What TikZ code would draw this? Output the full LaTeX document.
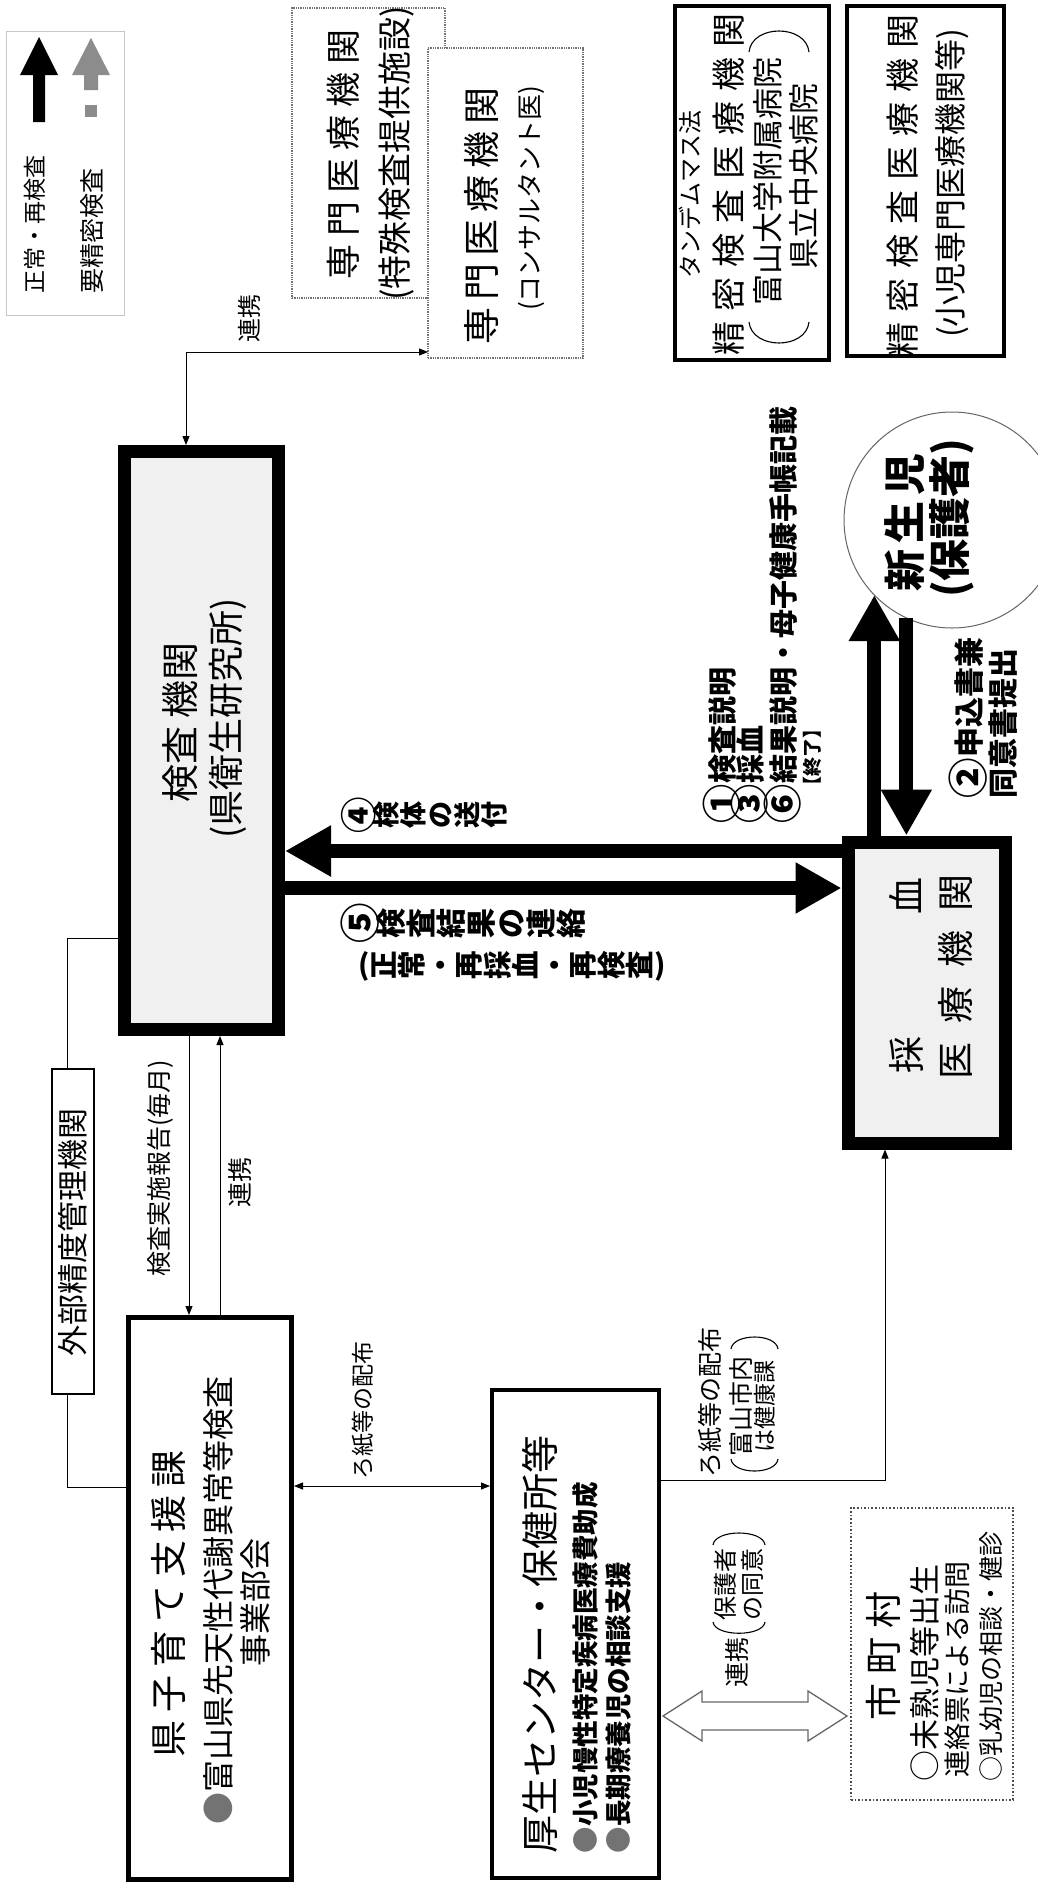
\documentclass[tikz,border=0pt]{standalone}
\usepackage{fontspec}
\usepackage{graphicx}
\setmainfont{Noto Sans CJK JP}
\usetikzlibrary{arrows.meta}
\makeatletter
\def\tate@end{TATEEND}
\def\lsp@end{LSPEND}
\newcommand\tchar[1]{\rotatebox[origin=c]{90}{\raisebox{0pt}[0.88em][0.12em]{#1}}}
\def\tate#1{\tate@loop#1\tate@end}
\def\tate@loop#1{\ifx#1\tate@end\else\tchar{#1}\expandafter\tate@loop\fi}
\def\lsp#1#2{\def\lsp@gap{#1}\lsp@first#2\lsp@end}
\def\lsp@first#1{#1\lsp@loop}
\def\lsp@loop#1{\ifx#1\lsp@end\else\hspace{\lsp@gap}#1\expandafter\lsp@loop\fi}
\makeatother
\newcommand\fsz[1]{\fontsize{#1}{#1}\selectfont}
\newcommand\gbul{{\color{black!55}●}}
\newcommand\cnum[1]{\raisebox{-0.1em}{\scalebox{1.35}{#1}}}
\begin{document}
\begin{tikzpicture}[x=1pt,y=-1pt,
  every node/.style={inner sep=0pt, outer sep=0pt},
  txt/.style={rotate=90, inner sep=0pt},
  thickbox/.style={draw, line width=13pt, outer sep=6.5pt, fill=black!6},
  midbox/.style={draw, line width=4pt, outer sep=2pt, fill=white},
  dotbox/.style={draw=black!55, densely dotted, line width=1.3pt, fill=white},
  tip/.tip={Triangle[length=9pt,width=7pt]},
  thinarr/.style={line width=1pt, -tip},
  thinboth/.style={line width=1pt, tip-tip},
  fatarr/.style={line width=14pt, -{Triangle[length=46pt,width=48pt]}},
  brk/.style={line width=1.1pt},
]
\clip (0,0) rectangle (1038,1884);
\fill[white] (0,0) rectangle (1038,1884);

% legend
\node[draw=black!22, line width=1pt, minimum width=118pt, minimum height=283pt] (legend) at (65,173.5) {};
\fill (33,122) -- (33,75) -- (20,75) -- (39,37) -- (58,75) -- (45,75) -- (45,122) -- cycle;
\fill[black!45] (84,90) -- (84,75) -- (72,75) -- (91,38) -- (110,75) -- (98,75) -- (98,90) -- cycle;
\fill[black!45] (85,105) rectangle (97,117);
\node[txt, anchor=west] (lg1) at (35,293) {\fsz{23}正常・再検査};
\node[txt, anchor=west] (lg2) at (92,293) {\fsz{25}要精密検査};

% specialist boxes
\node[dotbox, minimum width=153pt, minimum height=290pt] (sp1) at (368.5,153) {};
\node[txt] (sp1a) at (343,154) {\fsz{35}\lsp{8pt}{専門医療機関}};
\node[txt] (sp1b) at (397,153) {\fsz{34}(特殊検査提供施設)};
\node[dotbox, minimum width=155pt, minimum height=310pt] (sp2) at (505.5,203) {};
\node[txt] (sp2a) at (481,216) {\fsz{37}\lsp{7pt}{専門医療機関}};
\node[txt] (sp2b) at (531,198) {\fsz{26}(コンサルタント医)};

% tandem box
\node[midbox, minimum width=154pt, minimum height=354pt] (tandem) at (752,183) {};
\node[txt, anchor=west] (tda) at (690,278) {\fsz{24}タンデムマス法};
\node[txt] (tdb) at (729,184) {\fsz{34}\lsp{10pt}{精密検査医療機関}};
\node[txt] (tdc) at (768,181) {\fsz{31}富山大学附属病院};
\node[txt] (tdd) at (804,176) {\fsz{31}県立中央病院};
\draw[brk] (749,322) .. controls (752,350) and (806,350) .. (809,322);
\draw[brk] (749,52) .. controls (752,24) and (806,24) .. (809,52);

% pediatric box
\node[midbox, minimum width=157pt, minimum height=350pt] (shoni) at (925.5,181) {};
\node[txt] (sha) at (903,185) {\fsz{34}\lsp{10pt}{精密検査医療機関}};
\node[txt] (shb) at (952,183) {\fsz{32}(小児専門医療機関等)};

% main boxes
\node[thickbox, minimum width=154pt, minimum height=578pt] (kensa) at (201.5,740.5) {};
\node[txt] (ka) at (180,722) {\fsz{38}検査\hspace{8pt}機関};
\node[txt] (kb) at (228,718) {\fsz{36}(県衛生研究所)};

\node[thickbox, minimum width=157pt, minimum height=301pt] (saiketsu) at (926.5,992.5) {};
\node[txt] (sa) at (906,975) {\fsz{37}採\hspace{122pt}血};
\node[txt] (sb) at (955,977) {\fsz{37}\lsp{19pt}{医療機関}};

\node[circle, draw=black!60, line width=1pt, fill=white, minimum size=216pt] (child) at (952,520) {};
\node[txt] (ca) at (905,522) {\fsz{42}\bfseries\lsp{6pt}{新生児}};
\node[txt] (cb) at (952,518) {\fsz{42}\bfseries(保護者)};

% external QC box
\node[draw, line width=1.5pt, fill=white, minimum width=42pt, minimum height=325pt] (gaibu) at (73,1231.5) {};
\node[txt] (ga) at (73,1232) {\fsz{31}外部精度管理機関};

% prefecture
\node[draw, line width=5pt, outer sep=2.5pt, fill=white, minimum width=163pt, minimum height=562pt] (kosodate) at (210,1598.5) {};
\node[txt] (ko1) at (168,1604) {\fsz{37}\lsp{8pt}{県子育て支援課}};
\node[txt] (ko2) at (218,1600) {\fsz{32}\gbul 富山県先天性代謝異常等検査};
\node[txt] (ko3) at (255,1602) {\fsz{32}事業部会};

% health centre
\node[draw, line width=4pt, outer sep=2pt, fill=white, minimum width=167pt, minimum height=488pt] (kosei) at (575.5,1634) {};
\node[txt, anchor=west] (ks1) at (540,1853) {\fsz{38}厚生センター・保健所等};
\node[txt, anchor=west] (ks2) at (585,1853) {\fsz{26.5}\bfseries\gbul 小児慢性特定疾病医療費助成};
\node[txt, anchor=west] (ks3) at (618,1853) {\fsz{26.5}\bfseries\gbul 長期療養児の相談支援};

% municipality
\node[draw=black!70, dotted, line width=1.6pt, fill=white, minimum width=162pt, minimum height=292pt] (shi) at (932,1654) {};
\node[txt] (sh1) at (883,1656) {\fsz{37}\lsp{9pt}{市町村}};
\node[txt, anchor=west] (sh2) at (925,1781) {\fsz{31}○未熟児等出生};
\node[txt, anchor=west] (sh3) at (957,1777) {\fsz{27}連絡票による訪問};
\node[txt, anchor=west] (sh4) at (991,1781) {\fsz{25}○乳幼児の相談・健診};

% coordinates
\coordinate (cx1) at (186,352);
\coordinate (ax1) at (189,0);
\coordinate (ax2) at (220,0);
\coordinate (gx) at (67,938);
\coordinate (gy) at (67,1487);
\coordinate (ry) at (0,1486);
\coordinate (sx) at (885,1480);
\coordinate (y4) at (0,851);
\coordinate (y5) at (0,888);
\coordinate (upend) at (child.224.5);
\coordinate (downstart) at (child.245.4);

% thin connectors
\draw[thinboth] (kensa.north -| cx1) |- (sp2.west |- cx1);
\node[txt] (l1) at (249,318) {\fsz{24}連携};
\draw[thinarr] (kensa.south -| ax1) -- (kosodate.north -| ax1);
\draw[thinarr] (kosodate.north -| ax2) -- (kensa.south -| ax2);
\node[txt] (l2) at (160,1168) {\fsz{25}検査実施報告(毎月)};
\node[txt] (l3) at (240,1182) {\fsz{25}連携};
\draw[line width=1pt] (kensa.west |- gx) -| (gaibu.north -| gx);
\draw[line width=1pt] (gaibu.south -| gx) |- (kosodate.west |- gy);
\draw[thinboth] (kosodate.east |- ry) -- (kosei.west |- ry);
\node[txt] (l4) at (363,1410) {\fsz{23}ろ紙等の配布};
\draw[thinarr] (kosei.east |- sx) -| (saiketsu.south -| sx);
\node[txt] (l5) at (710,1402) {\fsz{25}ろ紙等の配布};
\node[txt] (l6) at (741,1406) {\fsz{25}富山市内};
\node[txt] (l7) at (765,1406) {\fsz{23}は健康課};
\draw[brk] (731,1349) .. controls (733,1333) and (776,1333) .. (778,1349);
\draw[brk] (731,1459) .. controls (733,1475) and (776,1475) .. (778,1459);

% hollow double arrow
\draw[black!60, fill=white, line width=1.3pt] (663,1716) -- (702,1691) -- (702,1702) -- (808,1702) -- (808,1691) -- (847,1716) -- (808,1741) -- (808,1730) -- (702,1730) -- (702,1741) -- cycle;
\node[txt] (l8) at (737,1662) {\fsz{25}連携};
\node[txt] (l9) at (725,1584) {\fsz{24}保護者};
\node[txt] (l10) at (752,1584) {\fsz{24}の同意};
\draw[brk] (713,1545) .. controls (715,1529) and (763,1529) .. (765,1545);
\draw[brk] (713,1622) .. controls (715,1637) and (763,1637) .. (765,1622);

% fat arrows
\draw[fatarr] (saiketsu.west |- y4) -- (kensa.east |- y4);
\draw[fatarr] (kensa.east |- y5) -- (saiketsu.west |- y5);
\draw[fatarr] (saiketsu.north -| upend) -- (upend);
\draw[fatarr] (downstart) -- (saiketsu.north -| downstart);

\node[anchor=west] (l11) at (346,815) {\fsz{27}\bfseries\tchar{\cnum{④}}\tate{検体の送付}};
\node[anchor=west] (l12) at (346,923) {\fsz{30}\bfseries\tchar{\cnum{⑤}}\tate{検査結果の連絡}};
\node[anchor=west] (l13) at (358,966) {\fsz{28.5}\bfseries(\tate{正常・再採血・再検査})};

\node[txt, anchor=west] (l14) at (722,823) {\fsz{29}\bfseries\cnum{①}検査説明};
\node[txt, anchor=west] (l15) at (750,823) {\fsz{29}\bfseries\cnum{③}採血};
\node[txt, anchor=west] (l16) at (783,823) {\fsz{29}\bfseries\cnum{⑥}結果説明・母子健康手帳記載};
\node[txt, anchor=west] (l17) at (812,795) {\fsz{19}\bfseries 【終了】};
\node[txt, anchor=west] (l18) at (968,798) {\fsz{30}\bfseries\cnum{②}申込書兼};
\node[txt, anchor=west] (l19) at (1003,798) {\fsz{30}\bfseries 同意書提出};
\end{tikzpicture}
\end{document}
